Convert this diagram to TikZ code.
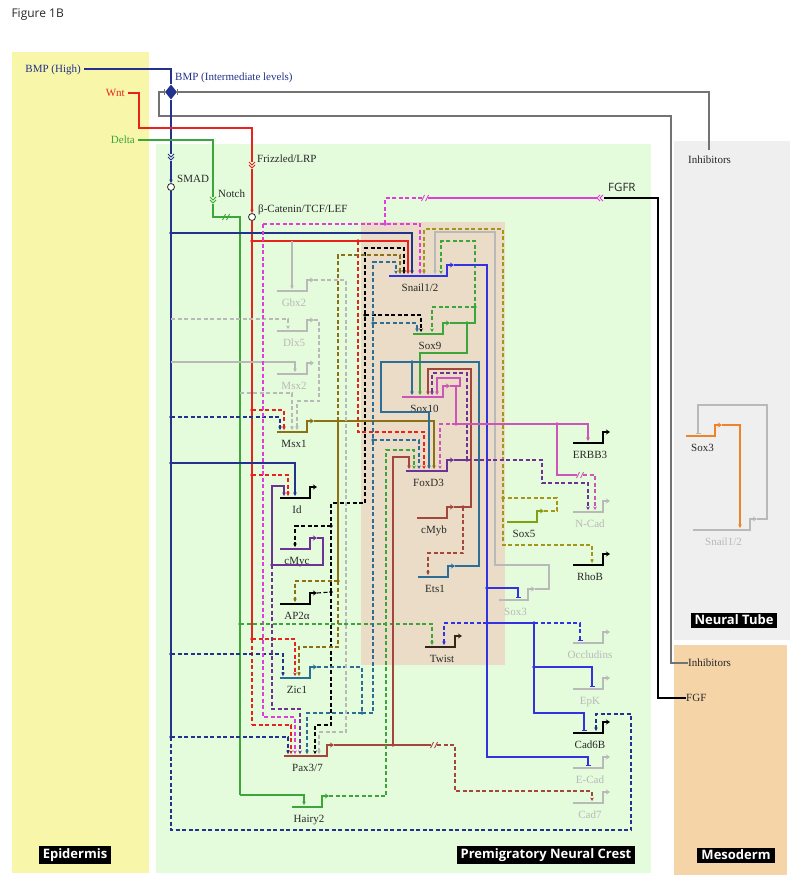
\documentclass[tikz,border=0pt]{standalone}
\usepackage{fontspec}
\setmainfont{Liberation Serif}
\newfontfamily\sansf{Open Sans}
\usetikzlibrary{arrows.meta,shapes.geometric}
\definecolor{navy}{RGB}{35,50,140}
\definecolor{wred}{RGB}{232,35,30}
\definecolor{dgreen}{RGB}{60,165,60}
\definecolor{fmag}{RGB}{225,60,220}
\definecolor{sblue}{RGB}{50,50,225}
\definecolor{olive}{RGB}{140,112,20}
\definecolor{sfive}{RGB}{165,150,25}
\definecolor{sfivebar}{RGB}{130,160,20}
\definecolor{teal2}{RGB}{45,110,150}
\definecolor{spink}{RGB}{205,85,185}
\definecolor{fpurp}{RGB}{110,50,150}
\definecolor{pbrown}{RGB}{165,70,60}
\definecolor{lgray}{RGB}{185,185,185}
\definecolor{igray}{RGB}{115,115,115}
\definecolor{nsorange}{RGB}{240,130,40}
\definecolor{epiy}{RGB}{248,246,168}
\definecolor{ncg}{RGB}{228,251,220}
\definecolor{ntg}{RGB}{239,239,239}
\definecolor{mesoc}{RGB}{245,212,168}
\definecolor{tanc}{RGB}{234,220,198}
\definecolor{twistc}{RGB}{55,35,25}
\definecolor{dk}{RGB}{40,40,40}
\tikzset{
  ln/.style={line width=1.1pt},
  dsh/.style={line width=1.1pt, dash pattern=on 4pt off 2.5pt},
  act/.style={-{Stealth[length=3.5pt,width=3.5pt]}},
  rep/.style={-{Bar[width=5pt]}},
  glab/.style={font=\fontsize{11}{13}\selectfont, inner sep=0pt, anchor=base},
  sig/.style={font=\fontsize{11}{13}\selectfont, inner sep=0pt, text=dk},
  regionlab/.style={fill=black, text=white, font=\sansf\bfseries\fontsize{13}{15}\selectfont, inner xsep=4pt, inner ysep=2.5pt},
}
\newcommand{\mkgene}[7]{%
  \draw[line width=2.6pt,#5] (#2,#4) -- (#3,#4);
  \draw[line width=1.8pt,#5] (#3,{#4+1.3}) -- (#3,{#4-11}) -- ({#3+2},{#4-11});
  \draw[line width=1.1pt,#5,-{Stealth[length=4pt,width=5pt]}] (#3,{#4-11}) -- ({#3+7},{#4-11});
  \coordinate (#1-o) at ({#3+7},{#4-11});
  \coordinate (#1) at (#2,#4);
  \node[glab,text=#7] (#1-l) at ({(#2+#3)/2+2},{#4+15}) {#6};
}
\newcommand{\jdot}[3]{\fill[#1] (#2,#3) circle (1.8pt);}
\newcommand{\brkh}[3]{\draw[#3,line width=0.9pt] ({#1-3.5},{#2+3}) -- ({#1-0.5},{#2-3}) ({#1+0.5},{#2+3}) -- ({#1+3.5},{#2-3});}
\newcommand{\chevd}[3]{\draw[#3,line width=1pt] ({#1-3},{#2-3}) -- (#1,#2) -- ({#1+3},{#2-3}) ({#1-3},{#2}) -- (#1,{#2+3}) -- ({#1+3},{#2});}
\newcommand{\chevl}[3]{\draw[#3,line width=1pt] ({#1+3},{#2-3}) -- (#1,#2) -- ({#1+3},{#2+3}) ({#1+6},{#2-3}) -- ({#1+3},{#2}) -- ({#1+6},{#2+3});}
\begin{document}
\begin{tikzpicture}[x=1pt,y=-1pt]
\useasboundingbox (0,0) rectangle (800,883);
\fill[white] (0,0) rectangle (800,883);
% regions
\fill[epiy] (12,52) rectangle (149,873);
\fill[ncg] (156,144) rectangle (651,873);
\fill[ntg] (674,141) rectangle (790,640);
\fill[mesoc] (674,645) rectangle (787,875);
\fill[tanc] (361,222) rectangle (505,665);
\node[font=\sansf\fontsize{12}{14}\selectfont, text=dk, anchor=west] (fig) at (8,15) {Figure 1B};
\node[regionlab] (epi) at (75,855) {Epidermis};
\node[regionlab] (pnc) at (546,855) {Premigratory Neural Crest};
\node[regionlab] (nt) at (734,620) {Neural Tube};
\node[regionlab] (meso) at (736,855) {Mesoderm};

% genes
\mkgene{snail}{389}{447}{276}{sblue}{Snail1/2}{dk}
\mkgene{sox9}{413}{443}{334}{dgreen}{Sox9}{dk}
\mkgene{sox10}{402}{443}{397}{spink}{Sox10}{dk}
\mkgene{foxd3}{406}{447}{471}{fpurp}{FoxD3}{dk}
\mkgene{cmyb}{417}{447}{518}{pbrown}{cMyb}{dk}
\mkgene{ets1}{418}{448}{577}{teal2}{Ets1}{dk}
\mkgene{twist}{425}{455}{647}{twistc}{Twist}{dk}
\mkgene{gbx2}{277}{307}{291}{lgray}{Gbx2}{lgray}
\mkgene{dlx5}{277}{307}{331}{lgray}{Dlx5}{lgray}
\mkgene{msx2}{277}{307}{374}{lgray}{Msx2}{lgray}
\mkgene{msx1}{277}{307}{432}{olive}{Msx1}{dk}
\mkgene{id}{280}{310}{498}{black}{Id}{dk}
\mkgene{cmyc}{280}{310}{549}{fpurp}{cMyc}{dk}
\mkgene{ap2}{280}{310}{604}{black}{AP2α}{dk}
\mkgene{zic1}{280}{310}{678}{teal2}{Zic1}{dk}
\mkgene{pax}{284}{327}{756}{pbrown}{Pax3/7}{dk}
\mkgene{hairy}{292}{322}{807}{dgreen}{Hairy2}{dk}
\mkgene{erbb3}{573}{603}{443}{black}{ERBB3}{dk}
\mkgene{ncad}{573}{603}{512}{lgray}{N-Cad}{lgray}
\mkgene{sox5}{507}{537}{522}{sfivebar}{Sox5}{dk}
\mkgene{rhob}{573}{603}{565}{black}{RhoB}{dk}
\mkgene{sox3n}{499}{528}{600}{lgray}{Sox3}{lgray}
\mkgene{occl}{573}{603}{643}{lgray}{Occludins}{lgray}
\mkgene{epk}{573}{603}{689}{lgray}{EpK}{lgray}
\mkgene{cad6}{573}{603}{733}{black}{Cad6B}{dk}
\mkgene{ecad}{573}{603}{768}{lgray}{E-Cad}{lgray}
\mkgene{cad7}{573}{603}{803}{lgray}{Cad7}{lgray}
\mkgene{sox3}{686}{715}{436}{nsorange}{Sox3}{dk}
\mkgene{snailnt}{693}{750}{530}{lgray}{Snail1/2}{lgray}

% top signals
\node[sig, text=navy, anchor=east] (bmph) at (81,70) {BMP (High)};
\node[diamond, fill=navy, inner sep=0pt, minimum width=12pt, minimum height=15pt] (bmpd) at (171,92) {};
\node[sig, text=navy, anchor=west] (bmpi) at (175,78) {BMP (Intermediate levels)};
\node[sig, text=wred, anchor=east] (wnt) at (125,93) {Wnt};
\node[sig, text=dgreen, anchor=east] (delta) at (135,140) {Delta};
\node[sig, anchor=west] (inh1) at (688,160) {Inhibitors};
\node[sig, anchor=west] (inh2) at (688,663) {Inhibitors};
\node[sig, anchor=west] (fgf) at (686,698) {FGF};
\node[font=\sansf\fontsize{11.5}{14}\selectfont, text=dk, inner sep=0pt, anchor=west] (fgfr) at (608,187) {FGFR};
\node[sig, anchor=west] (smadl) at (177,179) {SMAD};
\node[sig, anchor=west] (notchl) at (218,194) {Notch};
\node[sig, anchor=west] (frzl) at (257,159) {Frizzled/LRP};
\node[sig, anchor=west] (bcatl) at (258,210) {β-Catenin/TCF/LEF};
\node[circle, draw=dk, fill=white, line width=0.8pt, inner sep=0pt, minimum size=7pt] (smadc) at (171,187) {};
\node[circle, draw=dk, fill=white, line width=0.8pt, inner sep=0pt, minimum size=7pt] (bcat) at (252,217) {};

% inhibitor lines (gray)
\draw[igray,ln,-{Bar[width=6pt]}] (709,150) -- (709,92) -- (bmpd.east);
\draw[igray,ln,-{Bar[width=6pt]}] (inh2.west) -- (671,663) -- (671,116) -- (159,116) -- (159,92) -- (bmpd.west);
% BMP
\draw[navy,ln] (84,69) -| (bmpd.north);
\draw[navy,ln] (bmpd.south) -- (171,154);
\chevd{171}{157}{navy}
\draw[navy,ln,act] (171,161) -- (smadc.north);
\draw[navy,ln] (smadc.south) -- (171,737);
% Wnt
\draw[wred,ln] (128,93) -- (139,93) -- (139,128) -- (252,128) -- (252,162);
\chevd{252}{165}{wred}
\draw[wred,ln,act] (252,169) -- (bcat.north);
\draw[wred,ln] (bcat.south) -- (252,639);
\draw[wred,dsh] (252,639) -- (252,725);
% Delta / Notch
\draw[dgreen,ln] (138,140) -- (213,140) -- (213,197);
\chevd{213}{200}{dgreen}
\draw[dgreen,ln] (213,204) -- (213,217) -- (240,217) -- (240,795);
\brkh{226}{217}{dgreen}
% FGF
\draw[black,ln] (fgf.west) -- (658,698) -- (658,198) -- (604,198);
\chevl{597}{198}{fmag}
\draw[fmag,ln] (597,198) -- (428,198);
\brkh{425}{198}{fmag}
\draw[fmag,dsh] (422,198) -- (385,198) -- (385,224);

% SMAD targets
\draw[navy,ln,act] (171,233) -- (412,233) -- (412,274);
\draw[navy,dsh,act] (171,417) -- (280,417) -- (280,430);
\draw[navy,ln,act] (171,463) -- (295,463) -- (295,496);
\draw[navy,dsh,act] (171,654) -- (283,654) -- (283,676);
\draw[navy,dsh,act] (171,737) -- (288,737) -- (288,754);
\draw[navy,dsh,act] (171,737) -- (171,830) -- (631,830) -- (631,714) -- (596,714) -- (596,731);
\draw[lgray,dsh,act] (171,319) -- (288,319) -- (288,329);
\draw[lgray,ln,act] (171,362) -- (295,362) -- (295,372);
% beta-catenin targets
\draw[wred,ln,act] (252,241) -- (408,241) -- (408,274);
\draw[wred,dsh,act] (358,241) -- (358,432) -- (424,432) -- (424,469);
\draw[wred,dsh,act] (252,410) -- (284,410) -- (284,430);
\draw[wred,dsh,act] (252,475) -- (288,475) -- (288,496);
\draw[wred,dsh,act] (252,639) -- (295,639) -- (295,676);
\draw[wred,dsh,act] (252,725) -- (291,725) -- (291,754);
\draw[lgray,ln,act] (292,241) -- (292,289);
% FGF targets
\draw[fmag,dsh,act] (263,224) -- (420,224) -- (420,274);
\draw[fmag,dsh,act] (263,224) -- (263,717) -- (295,717) -- (295,754);
% Notch targets
\draw[dgreen,ln,act] (240,795) -- (304,795) -- (304,805);
\draw[dgreen,dsh,act] (240,624) -- (432,624) -- (432,645);
\draw[lgray,dsh,act] (240,393) -- (292,393) -- (292,430);
% Sox5
\draw[sfive,dsh,act] (sox5-o) -- (557,511) -- (557,498) -- (503,498) -- (503,229) -- (424,229) -- (424,274);
\draw[sfive,dsh,act] (503,498) -- (503,545) -- (592,545) -- (592,563);
% Sox3 (neural crest)
\draw[lgray,ln,act] (sox3n-o) -- (549,589) -- (549,565) -- (495,565) -- (495,232) -- (435,232) -- (435,274);
% Sox9
\draw[dgreen,ln] (sox9-o) -- (475,323) -- (475,307);
\draw[dgreen,ln,act] (467,323) -- (467,353) -- (420,353) -- (420,395);
\draw[dgreen,dsh,act] (475,307) -- (475,241) -- (441,241) -- (441,274);
\draw[dgreen,dsh,act] (475,307) -- (432,307) -- (432,332);
% AP2a
\draw[black,dsh] (ap2-o) -- (331,592);
\draw[black,dsh,act] (331,592) -- (331,503) -- (365,503) -- (365,248) -- (404,248) -- (404,274);
\draw[black,dsh,act] (331,526) -- (295,526) -- (295,547);
\draw[black,dsh,act] (365,315) -- (421,315) -- (421,332);
\draw[black,dsh,act] (331,592) -- (331,725) -- (315,725) -- (315,754);
% Msx1
\draw[olive,ln,act] (msx1-o) -- (434,421) -- (434,469);
\draw[olive,ln] (338,421) -- (338,581);
\draw[olive,dsh,act] (338,581) -- (295,581) -- (295,602);
\draw[olive,dsh,act] (338,581) -- (338,647) -- (299,647) -- (299,676);
\draw[olive,dsh,act] (338,421) -- (338,255) -- (400,255) -- (400,274);
% Zic1
\draw[teal2,dsh] (zic1-o) -- (362,667) -- (362,713);
\draw[teal2,dsh,act] (362,713) -- (307,713) -- (307,754);
\draw[teal2,dsh,act] (362,713) -- (373,713) -- (373,262) -- (396,262) -- (396,274);
\draw[teal2,dsh,act] (373,440) -- (419,440) -- (419,469);
\draw[teal2,dsh,act] (373,323) -- (417,323) -- (417,332);
% cMyc
\draw[fpurp,ln,act] (cmyc-o) -- (323,538) -- (323,565) -- (272,565) -- (272,486) -- (284,486) -- (284,496);
\draw[fpurp,dsh,act] (272,565) -- (272,709) -- (300,709) -- (300,754);
% Pax3/7
\draw[pbrown,ln] (pax-o) -- (431,745);
\brkh{434}{745}{pbrown}
\draw[pbrown,dsh,act] (437,745) -- (455,745) -- (455,791) -- (592,791) -- (592,801);
\draw[pbrown,ln,act] (393,745) -- (393,457) -- (409,457) -- (409,469);
% Hairy2
\draw[dgreen,dsh,act] (hairy-o) -- (386,796) -- (386,450) -- (414,450) -- (414,469);
% Gbx2, Dlx5
\draw[lgray,dsh,act] (gbx2-o) -- (346,280) -- (346,732) -- (319,732) -- (319,754);
\draw[lgray,dsh,act] (dlx5-o) -- (319,320) -- (319,401) -- (297,401) -- (297,430);
% Snail
\draw[sblue,ln,rep] (snail-o) -- (487,265) -- (487,757) -- (588,757) -- (588,766);
\draw[sblue,ln,rep] (487,588) -- (518,588) -- (518,598);
\draw[sblue,dsh,act] (487,623) -- (444,623) -- (444,645);
\draw[sblue,ln] (487,623) -- (534,623);
\draw[sblue,dsh,rep] (534,623) -- (580,623) -- (580,641);
\draw[sblue,ln,rep] (534,623) -- (534,713) -- (584,713) -- (584,731);
\draw[sblue,ln,rep] (534,667) -- (592,667) -- (592,687);
% Ets1
\draw[teal2,ln,act] (ets1-o) -- (479,566) -- (479,362) -- (381,362) -- (381,412) -- (429,412) -- (429,469);
\draw[teal2,ln,act] (412,362) -- (412,395);
% cMyb
\draw[pbrown,ln,act] (cmyb-o) -- (471,507) -- (471,369) -- (428,369) -- (428,395);
\draw[pbrown,dsh,act] (463,507) -- (463,553) -- (428,553) -- (428,575);
% FoxD3
\draw[fpurp,ln] (foxd3-o) -- (467,460);
\draw[fpurp,dsh,act] (467,460) -- (467,373) -- (432,373) -- (432,395);
\draw[fpurp,dsh,act] (467,460) -- (542,460) -- (542,483) -- (588,483) -- (588,510);
% Sox10
\draw[spink,ln,act] (sox10-o) -- (460,386) -- (460,378) -- (437,378) -- (437,395);
\draw[spink,ln] (456,386) -- (456,424);
\draw[spink,ln,act] (456,424) -- (588,424) -- (588,441);
\draw[spink,dsh,act] (456,424) -- (440,424) -- (440,469);
\draw[spink,ln] (557,424) -- (557,475) -- (577,475);
\brkh{580}{475}{spink}
\draw[spink,dsh,act] (583,475) -- (595,475) -- (595,510);
% Neural tube
\draw[nsorange,ln,act] (sox3-o) -- (740,425) -- (740,528);
\draw[lgray,ln,rep] (snailnt-o) -- (767,519) -- (767,405) -- (698,405) -- (698,434);

% junction dots
\jdot{navy}{171}{233}\jdot{navy}{171}{417}\jdot{navy}{171}{463}\jdot{navy}{171}{654}\jdot{navy}{171}{737}
\jdot{wred}{252}{241}\jdot{wred}{358}{241}\jdot{wred}{252}{410}\jdot{wred}{252}{475}\jdot{wred}{252}{639}
\jdot{fmag}{385}{224}
\jdot{dgreen}{240}{624}\jdot{dgreen}{475}{307}\jdot{dgreen}{467}{323}
\jdot{sfive}{503}{498}
\jdot{black}{331}{592}\jdot{black}{331}{526}\jdot{black}{365}{315}
\jdot{olive}{338}{421}\jdot{olive}{338}{581}
\jdot{teal2}{362}{713}\jdot{teal2}{373}{440}\jdot{teal2}{373}{323}\jdot{teal2}{412}{362}
\jdot{fpurp}{272}{565}\jdot{fpurp}{467}{460}
\jdot{pbrown}{393}{745}\jdot{pbrown}{463}{507}
\jdot{sblue}{487}{588}\jdot{sblue}{487}{623}\jdot{sblue}{534}{623}\jdot{sblue}{534}{667}
\jdot{spink}{456}{424}\jdot{spink}{557}{424}
\end{tikzpicture}
\end{document}
